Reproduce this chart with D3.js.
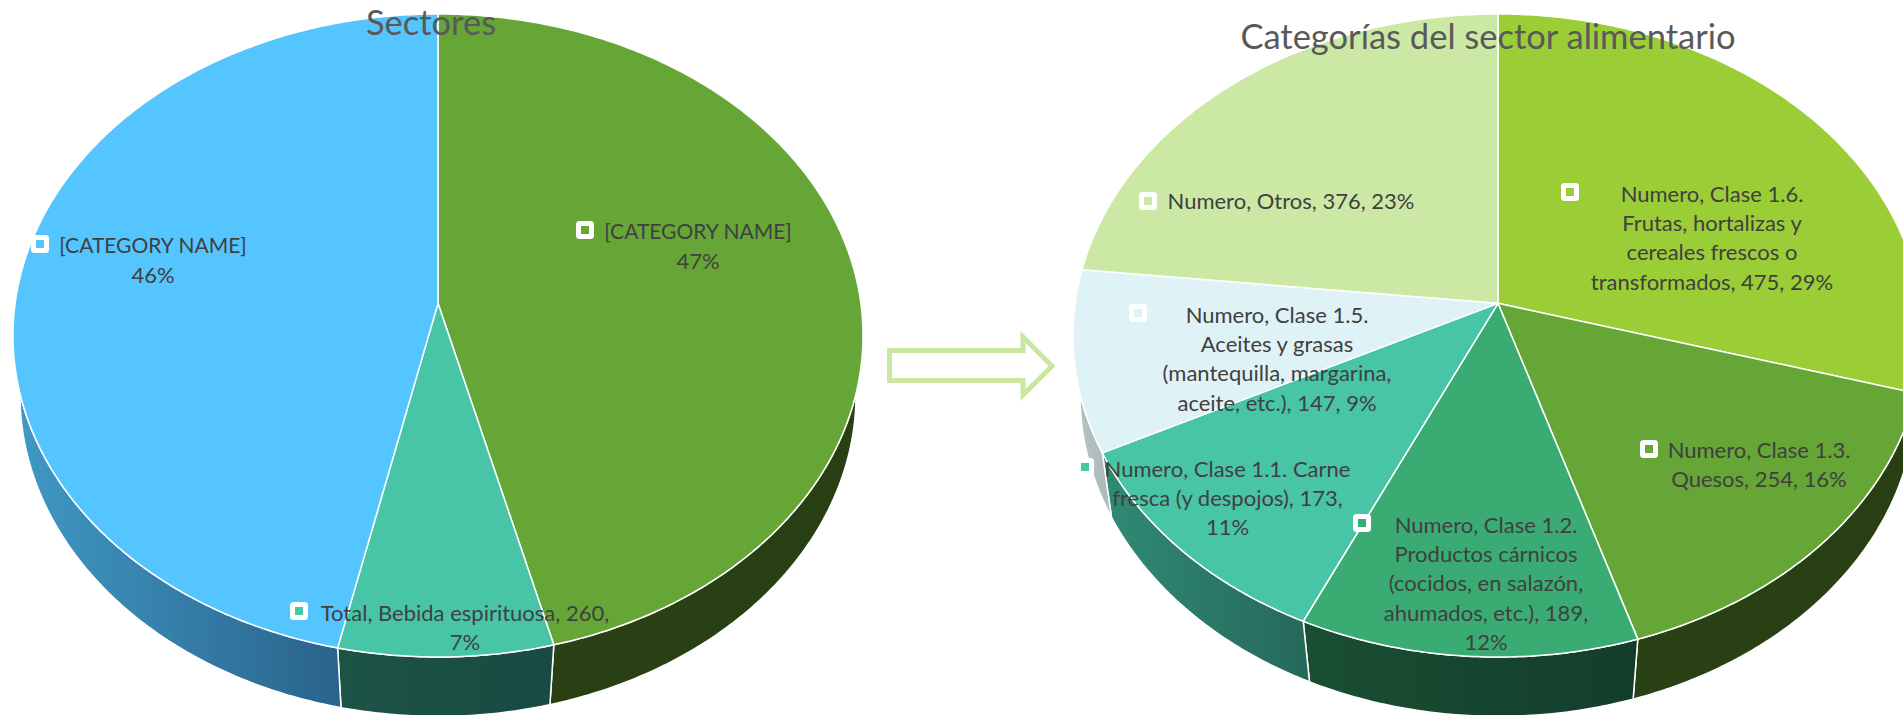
<!DOCTYPE html>
<html>
<head>
<meta charset="utf-8">
<script src="https://cdnjs.cloudflare.com/ajax/libs/d3/7.8.5/d3.min.js"></script>
<style>
  html, body { margin: 0; padding: 0; background: #fff; overflow: hidden; }
  svg { display: block; }
</style>
</head>
<body>
<script>
// chart data
const sectorNames = ["Alimentario", "Bebida espirituosa", "Otros sectores"];
const sectorValues = [1614, 260, 1633];
const sectorLabels = [
    ["[CATEGORY NAME]", "47%"],
    ["Total, Bebida espirituosa, 260,", "7%"],
    ["[CATEGORY NAME]", "46%"]
];

const foodNames = ["Clase 1.6", "Clase 1.3", "Clase 1.2", "Clase 1.1", "Clase 1.5", "Otros"];
const foodValues = [475, 254, 189, 173, 147, 376];
const foodLabels = [
    ["Numero, Clase 1.6.", "Frutas, hortalizas y", "cereales frescos o", "transformados, 475, 29%"],
    ["Numero, Clase 1.3.", "Quesos, 254, 16%"],
    ["Numero, Clase 1.2.", "Productos cárnicos", "(cocidos, en salazón,", "ahumados, etc.), 189,", "12%"],
    ["Numero, Clase 1.1. Carne", "fresca (y despojos), 173,", "11%"],
    ["Numero, Clase 1.5.", "Aceites y grasas", "(mantequilla, margarina,", "aceite, etc.), 147, 9%"],
    ["Numero, Otros, 376, 23%"]
];

// styles and layout
const sectorColors = ["#66a636", "#48c5a6", "#54c5ff"];
const sectorSides = [["#2a4015", "#283f14"], ["#1c5446", "#184a41"], ["#4099c6", "#23537a"]];
const sectorPlaces = [
    {mx: 585, my: 230, tx: 698, ty: 232},
    {mx: 299, my: 611, tx: 465, ty: 613},
    {mx: 40, my: 244, tx: 153, ty: 246}
];

const foodColors = ["#9acd36", "#66a636", "#3aab72", "#48c5a6", "#dff2f5", "#cbe9a4"];
const foodSides = [["#3f5a14", "#3f5a14"], ["#2a4015", "#283f14"], ["#1a4f34", "#133d2b"],
    ["#2f8b74", "#26695b"], ["#b5c3c5", "#aebcbe"], ["#cbe9a4", "#cbe9a4"]];
const foodPlaces = [
    {mx: 1570, my: 192, tx: 1712, ty: 194},
    {mx: 1649, my: 449, tx: 1759, ty: 450},
    {mx: 1362, my: 523, tx: 1486, ty: 525},
    {mx: 1085, my: 467, tx: 1227.5, ty: 469},
    {mx: 1138, my: 313, tx: 1277, ty: 315},
    {mx: 1148, my: 201, tx: 1291, ty: 201.5}
];

const topDisc = {rx: 425, ry: 321.5, cy: 335.5, tilt: 0.1};
const bottomDisc = {rx: 418, ry: 321.6, cy: 394.8, tilt: 0.082};

let svg = d3.select("body").append("svg")
    .attr("width", 1903)
    .attr("height", 715);
let defs = svg.append("defs");

// perspective view of a disc: the centre of the pie lands above the centre of the ellipse
function project(angle, cx, disc) {
    let s = Math.sin(angle), c = Math.cos(angle);
    let k = 1 + disc.tilt * c;
    return [
        cx + disc.rx * s * Math.sqrt(1 - disc.tilt * disc.tilt) / k,
        disc.cy - disc.ry * (c + disc.tilt) / k
    ];
}

function arcAngles(a0, a1) {
    let n = Math.max(2, Math.ceil((a1 - a0) / 0.01));
    return d3.range(n + 1).map(i => a0 + (a1 - a0) * i / n);
}

const outline = d3.line().curve(d3.curveLinearClosed);

function drawPie(id, cx, values, colors, sides) {
    let pie = d3.pie().sort(null).value(d => d)(values);
    let g = svg.append("g").attr("class", id);

    // side wall first, the top face covers whatever is behind
    pie.forEach(function(d, i) {
        let angles = arcAngles(d.startAngle, d.endAngle);
        let upper = angles.map(a => project(a, cx, topDisc));
        let lower = angles.slice().reverse().map(a => project(a, cx, bottomDisc));
        let xs = upper.map(p => p[0]);

        let grad = defs.append("linearGradient")
            .attr("id", id + "-side-" + i)
            .attr("gradientUnits", "userSpaceOnUse")
            .attr("x1", d3.min(xs)).attr("x2", d3.max(xs))
            .attr("y1", 0).attr("y2", 0);
        grad.append("stop").attr("offset", "0").attr("stop-color", sides[i][0]);
        grad.append("stop").attr("offset", "1").attr("stop-color", sides[i][1]);

        g.append("path")
            .attr("d", outline(upper.concat(lower)))
            .attr("fill", "url(#" + id + "-side-" + i + ")")
            .attr("stroke", "#fff")
            .attr("stroke-width", 1.5);
    });

    pie.forEach(function(d, i) {
        let rim = arcAngles(d.startAngle, d.endAngle).map(a => project(a, cx, topDisc));
        let apex = [cx, topDisc.cy - topDisc.ry * topDisc.tilt];
        g.append("path")
            .attr("d", outline([apex].concat(rim)))
            .attr("fill", colors[i])
            .attr("stroke", "#fff")
            .attr("stroke-width", 1.5)
            .attr("stroke-linejoin", "round");
    });
}

function drawLabels(labels, colors, places) {
    let g = svg.append("g")
        .attr("font-family", "Lato, sans-serif")
        .attr("font-size", 22)
        .attr("fill", "#404040");

    labels.forEach(function(lines, i) {
        let p = places[i];
        g.append("rect")
            .attr("x", p.mx - 9).attr("y", p.my - 9)
            .attr("width", 18).attr("height", 18)
            .attr("rx", 3.5)
            .attr("fill", "#fff");
        g.append("rect")
            .attr("x", p.mx - 4).attr("y", p.my - 4)
            .attr("width", 8).attr("height", 8)
            .attr("fill", colors[i]);
        lines.forEach(function(line, j) {
            g.append("text")
                .attr("x", p.tx)
                .attr("y", p.ty + j * 29.3)
                .attr("dy", "0.35em")
                .attr("text-anchor", "middle")
                // the capitals run wide in this font
                .attr("font-size", line.startsWith("[") ? 21 : 22)
                .text(line);
        });
    });
}

drawPie("sectores", 438, sectorValues, sectorColors, sectorSides);
drawPie("categorias", 1498, foodValues, foodColors, foodSides);

// arrow between both pies
svg.append("path")
    .attr("d", "M889.5,350.5H1023V337L1052,366L1023,395V380.5H889.5Z")
    .attr("fill", "none")
    .attr("stroke", "#c9e7a0")
    .attr("stroke-width", 5);

drawLabels(sectorLabels, sectorColors, sectorPlaces);
drawLabels(foodLabels, foodColors, foodPlaces);

// titles
svg.append("text")
    .attr("x", 431).attr("y", 35)
    .attr("text-anchor", "middle")
    .attr("font-family", "Lato, sans-serif")
    .attr("font-size", 34.5)
    .attr("fill", "#595959")
    .text("Sectores");
svg.append("text")
    .attr("x", 1488).attr("y", 49)
    .attr("text-anchor", "middle")
    .attr("font-family", "Lato, sans-serif")
    .attr("font-size", 34.5)
    .attr("fill", "#595959")
    .text("Categorías del sector alimentario");
</script>
</body>
</html>
